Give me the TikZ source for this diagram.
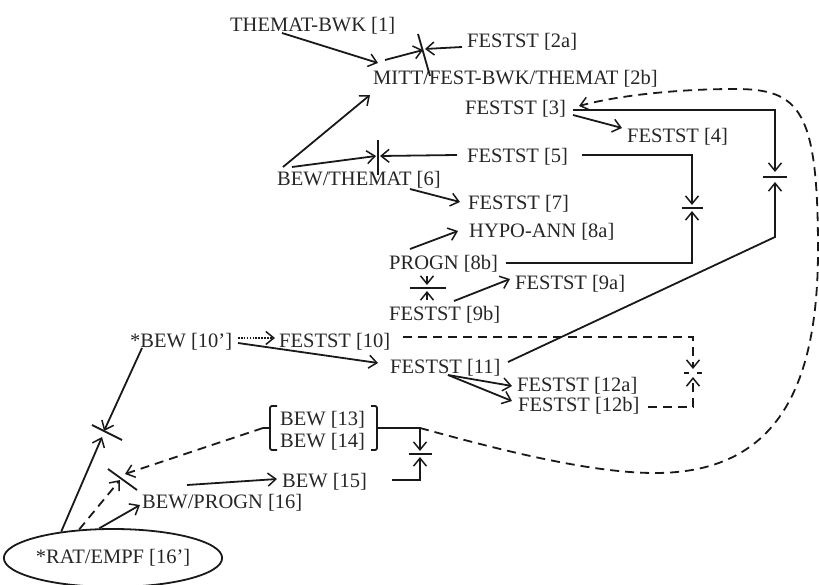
\documentclass[tikz,border=0pt]{standalone}
\usepackage{fontspec}
\setmainfont{Liberation Serif}
\usetikzlibrary{arrows.meta,shapes.geometric}

\begin{document}
\begin{tikzpicture}[x=1pt,y=-1pt,
  every node/.style={text=black!85},
  lbl/.style={anchor=base west,inner sep=0pt,font=\fontsize{20.5}{22}\selectfont},
  ln/.style={line width=1.8pt,draw=black!90},
  arr/.style={ln,-{Straight Barb[length=8pt,width=13pt,line width=1.5pt]}},
  dsh/.style={dash pattern=on 9pt off 6pt},
  dots/.style={dash pattern=on 1.6pt off 1.3pt},
]
\useasboundingbox (0,0) rectangle (819,585);

% statements
\node[lbl] (n1)   at (230,32)  {THEMAT-BWK [1]};
\node[lbl] (n2a)  at (467,48)  {FESTST [2a]};
\node[lbl] (n2b)  at (373,85)  {MITT/FEST-BWK/THEMAT [2b]};
\node[lbl] (n3)   at (465,115) {FESTST [3]};
\node[lbl] (n4)   at (627,143) {FESTST [4]};
\node[lbl] (n5)   at (467,163) {FESTST [5]};
\node[lbl] (n6)   at (277,186) {BEW/THEMAT [6]};
\node[lbl] (n7)   at (468,210) {FESTST [7]};
\node[lbl] (n8a)  at (469,238) {HYPO-ANN [8a]};
\node[lbl] (n8b)  at (389,270) {PROGN [8b]};
\node[lbl] (n9a)  at (515,290) {FESTST [9a]};
\node[lbl] (n9b)  at (389,320) {FESTST [9b]};
\node[lbl] (n10p) at (130,347) {*BEW [10']};
\node[lbl] (n10)  at (279,347) {FESTST [10]};
\node[lbl] (n11)  at (390,373) {FESTST [11]};
\node[lbl] (n12a) at (517,391) {FESTST [12a]};
\node[lbl] (n12b) at (518,411) {FESTST [12b]};
\node[lbl] (n13)  at (280,425) {BEW [13]};
\node[lbl] (n14)  at (280,447) {BEW [14]};
\node[lbl] (n15)  at (282,487) {BEW [15]};
\node[lbl] (n16)  at (142,508) {BEW/PROGN [16]};
\node[ellipse,ln,inner sep=0pt,minimum width=203pt,minimum height=58pt,
      font=\fontsize{20.5}{22}\selectfont] (n16p) at (113,558) {*RAT/EMPF [16']};

% meeting points of opposed arrows
\coordinate (t1) at (424,49);
\coordinate (t2) at (378,156);
\coordinate (t3) at (775,177);
\coordinate (t4) at (692,208);
\coordinate (t5) at (427,288);
\coordinate (t6) at (693,373);
\coordinate (t7) at (420,454);
\coordinate (t8) at (103,434);
\coordinate (t9) at (122,476);
\coordinate (b13) at ([shift={(97,3)}]n13.base west);
\coordinate (b13l) at ([shift={(-17,3)}]n13.base west);

% top group
\draw[arr] ([shift={(52,1)}]n1.base west) -- ([shift={(5,-22)}]n2b.base west);
\draw[arr] ([shift={(12,-25)}]n2b.base west) -- ([shift={(-1,1)}]t1);
\draw[arr] ([shift={(-5,-1)}]n2a.base west) -- ([shift={(1,0)}]t1);
\draw[ln] ([shift={(-6,-15)}]t1) -- ([shift={(6,27)}]t1);

\draw[arr] ([shift={(6,-19)}]n6.base west) -- ([shift={(-3,10)}]n2b.base west);
\draw[arr] ([shift={(15,-19)}]n6.base west) -- ([shift={(-2,0)}]t2);
\draw[arr] ([shift={(-10,-8)}]n5.base west) -- ([shift={(2,0)}]t2);
\draw[ln] ([shift={(0,-16)}]t2) -- ([shift={(0,19)}]t2);
\draw[arr] ([shift={(133,3)}]n6.base west) -- ([shift={(-8,-8)}]n7.base west);

\draw[arr] ([shift={(108,0)}]n3.base west) -- ([shift={(-5,-15)}]n4.base west);
\draw[arr] ([shift={(108,-5)}]n3.base west) -| ([shift={(0,-5)}]t3);
\draw[arr] ([shift={(118,-11)}]n11.base west) -- ([shift={(0,60)}]t3) -- ([shift={(0,5)}]t3);
\draw[ln] ([shift={(-12,0)}]t3) -- ([shift={(12,0)}]t3);

\draw[arr] ([shift={(115,-8)}]n5.base west) -| ([shift={(0,-3)}]t4);
\draw[arr] ([shift={(117,-7)}]n8b.base west) -| ([shift={(0,3)}]t4);
\draw[ln] ([shift={(-10,0)}]t4) -- ([shift={(11,0)}]t4);

\draw[arr] ([shift={(21,-21)}]n8b.base west) -- ([shift={(-11,-7)}]n8a.base west);
\draw[arr] ([shift={(38,6)}]n8b.base west) -- ([shift={(0,-3)}]t5);
\draw[arr] ([shift={(38,-20)}]n9b.base west) -- ([shift={(0,3)}]t5);
\draw[ln] ([shift={(-17,0)}]t5) -- ([shift={(19,0)}]t5);
\draw[arr] ([shift={(65,-19)}]n9b.base west) -- ([shift={(-5,-11)}]n9a.base west);

% middle group
\draw[arr,dots] ([shift={(108,-9)}]n10p.base west) -- ([shift={(-4,-9)}]n10.base west);
\draw[arr] ([shift={(108,-4)}]n10p.base west) -- ([shift={(-12,-10)}]n11.base west);
\draw[arr,dsh] ([shift={(124,-10)}]n10.base west) -| ([shift={(0,-4)}]t6);
\draw[arr,dsh] ([shift={(130,-4)}]n12b.base west) -| ([shift={(0,4)}]t6);
\draw[ln] ([shift={(-9,0)}]t6) -- ([shift={(-4,0)}]t6);
\draw[ln] ([shift={(4,0)}]t6) -- ([shift={(9,0)}]t6);
\draw[arr] ([shift={(58,2)}]n11.base west) -- ([shift={(-5,-5)}]n12a.base west);
\draw[arr] ([shift={(58,2)}]n11.base west) -- ([shift={(-6,-10)}]n12b.base west);

% bracket round [13] and [14]
\draw[ln,rounded corners=2pt] ([shift={(-3,-19)}]n13.base west) -- ([shift={(-10,-19)}]n13.base west)
  -- ([shift={(-10,3)}]n14.base west) -- ([shift={(-3,3)}]n14.base west);
\draw[ln] ([shift={(-10,0)}]b13l -| n13.base west) -- (b13l);
\draw[ln,rounded corners=2pt] ([shift={(91,-19)}]n13.base west) -- ([shift={(97,-19)}]n13.base west)
  -- ([shift={(97,3)}]n14.base west) -- ([shift={(91,3)}]n14.base west);
\draw[arr] (b13) -| ([shift={(0,-3)}]t7);
\draw[arr] ([shift={(110,-7)}]n15.base west) -| ([shift={(0,3)}]t7);
\draw[ln] ([shift={(-11,0)}]t7) -- ([shift={(12,0)}]t7);

% long dashed return to [3]
\draw[arr,dsh] (t7 |- b13) .. controls (500,450) and (590,473) .. (655,473)
  .. controls (775,473) and (818,390) .. (818,250)
  .. controls (818,110) and (800,89) .. (735,89)
  .. controls (680,89) and (620,95) .. ([shift={(114,-9)}]n3.base west);

% lower left group
\draw[arr] ([shift={(12,1)}]n10p.base west) -- ([shift={(1,-3)}]t8);
\draw[arr] (n16p.153) -- ([shift={(-1,3)}]t8);
\draw[ln] (92,425) -- (122,440);
\draw[arr,dsh] (n16p.140) -- ([shift={(-2,4)}]t9);
\draw[arr,dsh] (b13l) -- ([shift={(3,-2)}]t9);
\draw[ln] ([shift={(-14,-7)}]t9) -- ([shift={(15,14)}]t9);
\draw[arr] (n16p.115) -- ([shift={(-2,-3)}]n16.base west);
\draw[arr] ([shift={(45,-23)}]n16.base west) -- ([shift={(-5,-8)}]n15.base west);
\end{tikzpicture}
\end{document}
